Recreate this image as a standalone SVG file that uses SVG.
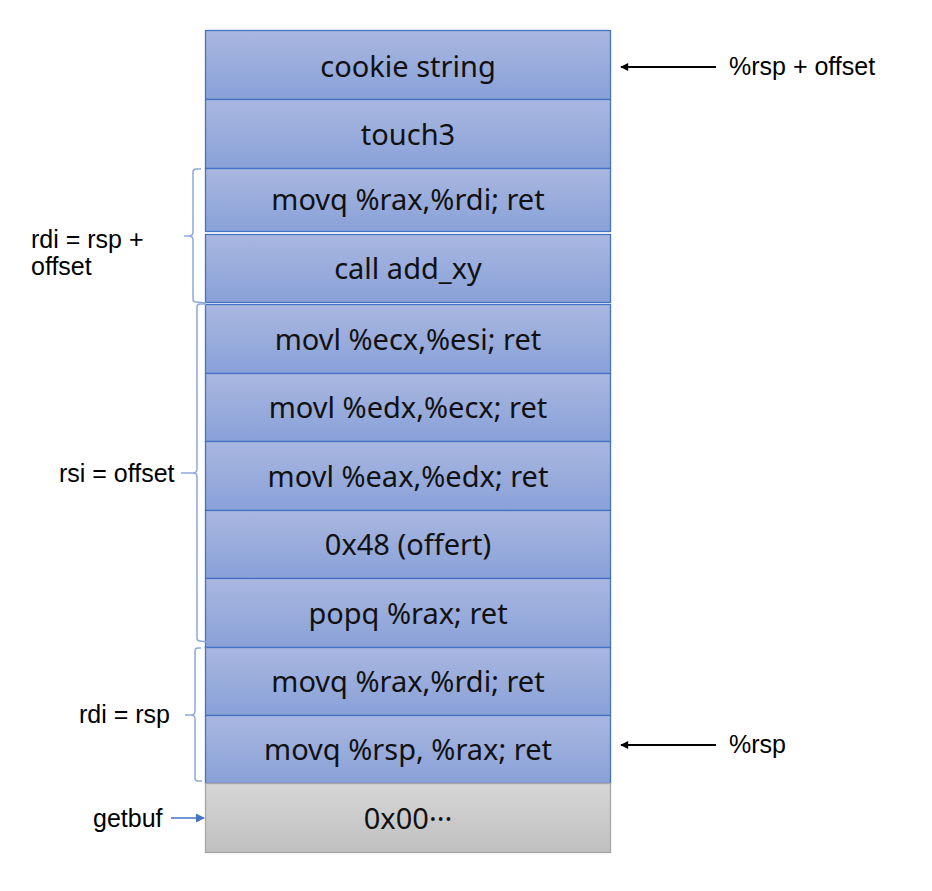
<svg xmlns="http://www.w3.org/2000/svg" width="932" height="891" viewBox="0 0 932 891">
<defs>
<linearGradient id="gb" x1="0" y1="0" x2="0" y2="1"><stop offset="0" stop-color="#a9b7e0"/><stop offset="1" stop-color="#89a1d8"/></linearGradient>
<linearGradient id="gg" x1="0" y1="0" x2="0" y2="1"><stop offset="0" stop-color="#d6d6d6"/><stop offset="1" stop-color="#c0c0c0"/></linearGradient>
<marker id="ak" viewBox="0 0 10 10" refX="9" refY="5" markerWidth="5" markerHeight="4" orient="auto"><path d="M0,0 L10,5 L0,10 z" fill="#000"/></marker>
<marker id="ab" viewBox="0 0 10 10" refX="9" refY="5" markerWidth="7" markerHeight="7" orient="auto"><path d="M0,0 L10,5 L0,10 z" fill="#4472c4"/></marker>
</defs>
<style>
.b{fill:url(#gb);stroke:#4472c4;stroke-width:1.3}
.g{fill:url(#gg);stroke:#a6a6a6;stroke-width:1.3}
.t{font-family:"Noto Sans","Open Sans",sans-serif;font-size:29px;fill:#111;text-anchor:middle;dominant-baseline:central}
.l{font-family:"Liberation Sans",Arial,sans-serif;font-size:25px;fill:#000}
.br{fill:none;stroke:#8fa8dc;stroke-width:1.5}
</style>
<g id="n1"><rect class="b" x="205.5" y="30.5" width="405" height="69"/><text class="t" x="408" y="65">cookie string</text></g>
<g id="n2"><rect class="b" x="205.5" y="99.5" width="405" height="69"/><text class="t" x="408" y="133">touch3</text></g>
<g id="n3"><rect class="b" x="205.5" y="168.5" width="405" height="63"/><text class="t" x="408" y="198">movq %rax,%rdi; ret</text></g>
<g id="n4"><rect class="b" x="205.5" y="234.5" width="405" height="68"/><text class="t" x="408" y="267">call add_xy</text></g>
<g id="n5"><rect class="b" x="205.5" y="304.5" width="405" height="69"/><text class="t" x="408" y="338">movl %ecx,%esi; ret</text></g>
<g id="n6"><rect class="b" x="205.5" y="373.5" width="405" height="68"/><text class="t" x="408" y="406">movl %edx,%ecx; ret</text></g>
<g id="n7"><rect class="b" x="205.5" y="441.5" width="405" height="69"/><text class="t" x="408" y="475">movl %eax,%edx; ret</text></g>
<g id="n8"><rect class="b" x="205.5" y="510.5" width="405" height="68"/><text class="t" x="408" y="543">0x48 (offert)</text></g>
<g id="n9"><rect class="b" x="205.5" y="578.5" width="405" height="69"/><text class="t" x="408" y="612">popq %rax; ret</text></g>
<g id="n10"><rect class="b" x="205.5" y="647.5" width="405" height="68"/><text class="t" x="408" y="680">movq %rax,%rdi; ret</text></g>
<g id="n11"><rect class="b" x="205.5" y="715.5" width="405" height="68"/><text class="t" x="408" y="748">movq %rsp, %rax; ret</text></g>
<g id="n12"><rect class="g" x="205.5" y="783.5" width="405" height="69"/><text class="t" x="408" y="817">0x00···</text></g>
<g id="labels">
<text class="l" x="729" y="75">%rsp + offset</text>
<text class="l" x="729" y="753">%rsp</text>
<text class="l" x="31" y="248">rdi = rsp +</text>
<text class="l" x="31" y="275">offset</text>
<text class="l" x="59" y="482">rsi = offset</text>
<text class="l" x="79" y="723">rdi = rsp</text>
<text class="l" x="93" y="827">getbuf</text>
</g>
<g id="connectors">
<path class="br" d="M201,169 L196,169 Q193,169 193,172 L193,232 Q193,236 189,236 L184,236 M189,236 Q193,236 193,240 L193,299 Q193,302 196,302 L206,303"/>
<path class="br" d="M206,304 L200,304 Q197,304 197,307 L197,469 Q197,473 193,473 L181,473 M193,473 Q197,473 197,477 L197,638 Q197,641 200,641 L207,642"/>
<path class="br" d="M201,648 L198,648 Q195,648 195,651 L195,711 Q195,715 191,715 L185,715 M191,715 Q195,715 195,719 L195,778 Q195,781 198,781 L202,781"/>
<line x1="716" y1="67" x2="621" y2="67" stroke="#000" stroke-width="2" marker-end="url(#ak)"/>
<line x1="716" y1="745" x2="621" y2="745" stroke="#000" stroke-width="2" marker-end="url(#ak)"/>
<line x1="171" y1="818" x2="204" y2="818" stroke="#4472c4" stroke-width="1.3" marker-end="url(#ab)"/>
</g>
</svg>
